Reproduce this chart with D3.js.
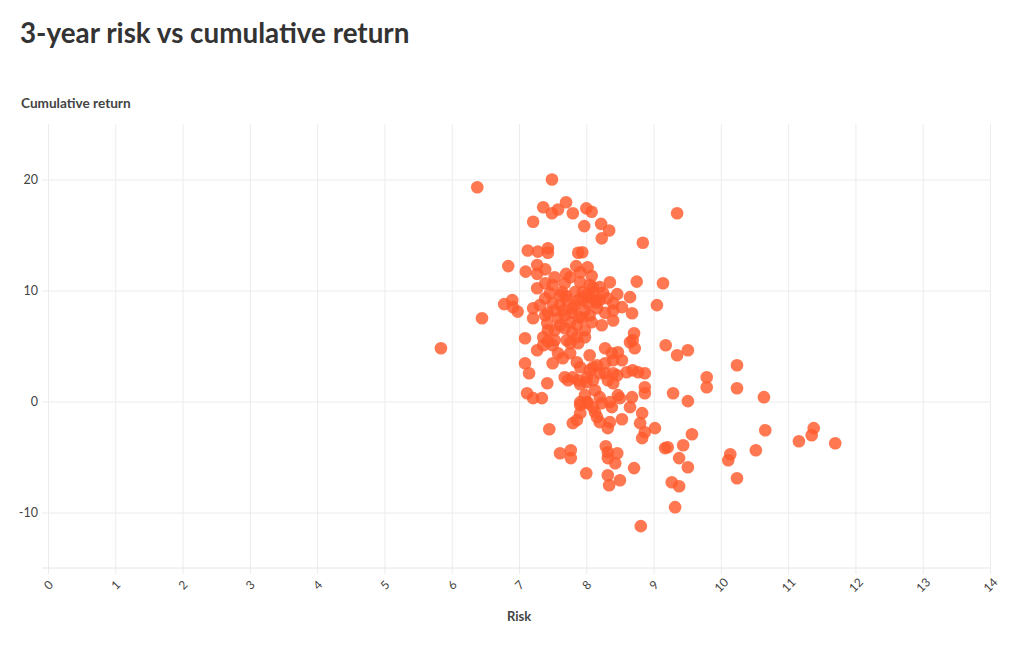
<!DOCTYPE html>
<html>
<head>
<meta charset="utf-8">
<script src="https://cdn.jsdelivr.net/npm/d3@7"></script>
<style>
  html, body { margin: 0; padding: 0; background: #fff; }
  svg { display: block; }
</style>
</head>
<body>
<svg id="chart" width="1020" height="650"></svg>
<script>
const titleText = "3-year risk vs cumulative return";
const yAxisTitle = "Cumulative return";
const xAxisTitle = "Risk";
const xTicks = [0,1,2,3,4,5,6,7,8,9,10,11,12,13,14];
const yTicks = [-10, 0, 10, 20];

const risk = [
  5.84,6.38,6.45,7.49,6.84,9.35,8.84,9.05,9.14,9.18,9.35,9.51,9.79,9.79,10.24,10.24,10.64,10.66,9.29,9.51,
  9.57,9.44,9.21,9.38,9.51,9.27,9.38,9.32,10.14,10.11,10.52,10.24,11.16,11.35,11.38,11.70,8.81,9.02,9.17,
  7.36,7.49,7.58,7.70,7.80,8.00,8.08,7.21,7.97,8.22,8.34,8.23,7.13,7.28,7.43,7.43,7.88,7.94,
  7.10,7.27,7.39,7.27,7.53,7.70,7.76,7.85,7.91,8.02,8.08,8.35,8.75,7.39,7.50,7.68,7.91,8.05,8.10,7.27,8.20,8.46,8.65,
  6.78,6.90,6.98,6.91,7.21,7.21,7.39,7.43,7.50,7.64,7.71,7.79,7.88,7.95,8.02,8.10,8.16,8.31,8.53,8.68,8.40,8.28,
  8.23,8.08,7.94,7.86,7.76,7.58,7.39,7.42,7.53,7.68,7.98,7.98,7.86,7.71,7.53,7.36,7.09,8.71,8.69,8.40,7.61,8.40,
  7.61,7.83,8.05,7.46,7.68,8.13,7.53,7.83,7.98,8.20,7.61,7.79,8.05,7.31,7.43,
  7.27,7.36,7.50,7.58,7.50,7.43,7.09,7.15,7.42,7.12,7.21,7.34,7.76,7.76,7.88,7.68,7.73,7.91,7.88,8.05,
  8.16,8.05,8.20,8.28,8.28,8.38,8.47,8.53,8.40,8.32,8.60,8.69,8.77,8.87,8.65,8.72,8.87,8.87,8.68,8.47,
  8.13,8.20,8.02,7.91,7.65,7.86,8.10,8.40,8.28,8.46,8.40,8.01,8.10,7.98,8.23,7.80,7.91,8.00,
  8.65,7.91,8.01,8.13,8.35,8.50,8.10,8.38,7.91,7.86,7.80,8.16,8.20,8.35,8.32,8.53,8.83,8.80,8.87,8.83,
  7.45,7.61,7.77,7.77,8.00,8.29,8.32,8.46,8.32,8.43,8.32,8.34,8.50,8.71,
  7.70,7.95,8.15,7.80,8.00,7.66,7.90,8.25
];
const cumReturn = [
  4.80,19.30,7.50,20.0,12.2,16.96,14.3,8.68,10.65,5.07,4.17,4.62,2.19,1.29,3.27,1.2,0.39,-2.59,0.75,0.03,
  -2.95,-3.94,-4.12,-5.1,-5.92,-7.27,-7.63,-9.52,-4.75,-5.29,-4.39,-6.91,-3.58,-3.04,-2.4,-3.76,-11.23,-2.4,-4.2,
  17.5,16.96,17.3,17.95,16.96,17.4,17.1,16.2,15.8,16.0,15.4,14.7,13.6,13.5,13.8,13.4,13.4,13.45,
  11.7,12.3,11.9,11.5,11.2,11.5,11.2,12.2,11.65,12.1,11.3,10.75,10.8,10.65,10.5,10.65,10.75,10.5,10.3,10.2,10.3,9.67,9.4,
  8.77,9.13,8.1,8.5,8.4,7.5,9.3,8.0,8.86,9.85,9.13,8.0,9.13,9.85,8.86,9.85,8.4,9.3,8.5,7.95,8.86,8.0,
  6.87,7.14,7.5,6.87,7.14,7.5,7.77,7.05,6.42,6.6,6.42,5.79,5.79,5.52,5.52,5.79,5.7,6.15,5.52,7.3,8.68,8.2,
  9.58,9.85,9.4,9.76,7.77,9.13,8.2,8.68,8.2,9.13,6.87,6.24,7.77,8.68,6.42,
  4.62,5.07,5.07,4.35,3.45,5.43,3.45,2.55,1.65,0.75,0.3,0.3,4.35,5.25,5.25,2.19,1.92,3.09,1.92,4.17,
  3.27,2.82,2.55,3.45,4.8,4.35,4.44,3.72,2.55,1.92,2.64,2.82,2.64,2.55,5.34,4.8,1.29,0.75,0.39,0.57,
  1.02,0.39,-0.06,-0.06,3.9,3.54,3.09,3.72,2.55,2.37,1.65,2.19,1.92,0.57,-0.15,2.19,1.56,1.74,
  -0.51,-0.33,-0.15,-0.96,-0.06,0.3,-0.51,-0.51,-1.05,-1.68,-1.95,-1.41,-1.86,-1.86,-2.4,-1.6,-1.05,-1.95,-2.77,-3.3,
  -2.5,-4.66,-4.39,-5.1,-6.46,-4.03,-4.57,-4.66,-5.1,-5.56,-6.64,-7.54,-7.09,-6.0,
  9.5,9.2,8.9,8.4,9.6,8.2,7.6,9.8
];

const points = risk.map((r, i) => ({ x: r, y: cumReturn[i] }));

const svg = d3.select("#chart");
const margin = { left: 48, right: 30, top: 124, bottom: 82 };
const W = 1020, H = 650;

const x = d3.scaleLinear().domain([0, 14]).range([margin.left, W - margin.right]);
const y = d3.scaleLinear().domain([-15, 25]).range([H - margin.bottom, margin.top]);

const font = "Lato, 'Open Sans', sans-serif";
const hyphenFmt = d => String(d);

// Title
svg.append("text")
  .attr("x", 20).attr("y", 43)
  .attr("font-family", font).attr("font-weight", 700)
  .attr("font-size", 27.8).attr("fill", "#333")
  .text(titleText);

// Y axis title
svg.append("text")
  .attr("x", 21).attr("y", 108)
  .attr("font-family", font).attr("font-weight", 700)
  .attr("font-size", 13.6).attr("fill", "#444")
  .text(yAxisTitle);

// Vertical grid (x axis)
const plotH = y(-15) - y(25);
const xAxis = d3.axisBottom(x).tickValues(xTicks).tickSize(-plotH).tickFormat(hyphenFmt);
const gx = svg.append("g").attr("transform", `translate(0,${y(-15)})`).call(xAxis);
gx.select(".domain").remove();
gx.selectAll(".tick line").attr("stroke", "#ececec").attr("y2", -plotH).attr("y1", 6);
gx.selectAll(".tick text")
  .attr("font-family", font).attr("font-size", 12).attr("fill", "#444")
  .attr("text-anchor", "middle")
  .attr("dy", "0.35em")
  .attr("y", 17)
  .attr("transform", "rotate(-45, 0, 17)");

// Horizontal grid (y axis)
const yAxis = d3.axisLeft(y).tickValues(yTicks).tickSize(-(x(14) - x(0))).tickPadding(10).tickFormat(hyphenFmt);
const gy = svg.append("g").attr("transform", `translate(${x(0)},0)`).call(yAxis);
gy.select(".domain").remove();
gy.selectAll(".tick line").attr("stroke", "#ececec").attr("x1", -6);
gy.selectAll(".tick text")
  .attr("font-family", font).attr("font-size", 12.5).attr("fill", "#444");

// baseline
svg.append("line")
  .attr("x1", x(0) - 6).attr("x2", x(14))
  .attr("y1", y(-15)).attr("y2", y(-15))
  .attr("stroke", "#e6e6e6");

// X axis title
svg.append("text")
  .attr("x", (x(0) + x(14)) / 2).attr("y", 621)
  .attr("text-anchor", "middle")
  .attr("font-family", font).attr("font-weight", 700)
  .attr("font-size", 13).attr("fill", "#444")
  .text(xAxisTitle);

// Points
svg.append("g").selectAll("circle")
  .data(points).join("circle")
  .attr("cx", d => x(d.x)).attr("cy", d => y(d.y))
  .attr("r", 6.3)
  .attr("fill", "#ff5a2c")
  .attr("fill-opacity", 0.82);
</script>
</body>
</html>
